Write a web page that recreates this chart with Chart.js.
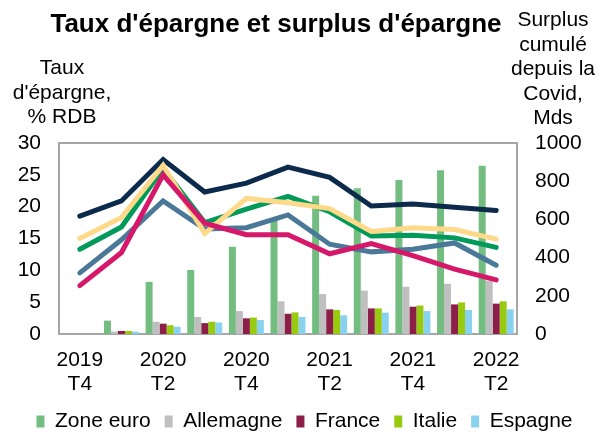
<!DOCTYPE html>
<html>
<head>
<meta charset="utf-8">
<script src="https://cdn.jsdelivr.net/npm/chart.js@4.4.0/dist/chart.umd.min.js"></script>
<style>
    html, body { margin: 0; padding: 0; background: #fff; }
    #wrap { width: 609px; height: 432px; }
</style>
</head>
<body>
<div id="wrap"><canvas id="savingsChart" width="609" height="432"></canvas></div>
<script>
// Quarters on the x axis (only every other one gets a label)
const quarters = ['2019 T4', '2020 T1', '2020 T2', '2020 T3', '2020 T4', '2021 T1',
                  '2021 T2', '2021 T3', '2021 T4', '2022 T1', '2022 T2'];

// Cumulated excess savings since Covid, bn (right axis) - bars
const surplusZoneEuro = [0, 70, 273, 335, 457, 597, 724, 763, 806, 857, 881];
const surplusAllemagne = [0, 13, 64, 89, 120, 171, 209, 227, 247, 263, 279];
const surplusFrance = [0, 16, 54, 57, 82, 106, 129, 134, 143, 155, 159];
const surplusItalie = [0, 16, 46, 64, 86, 113, 126, 134, 149, 165, 171];
const surplusEspagne = [0, 12, 38, 60, 73, 89, 98, 112, 120, 126, 129];

// Saving rate, % of disposable income (left axis) - lines
const tauxNavy = [18.5, 20.9, 27.4, 22.3, 23.7, 26.2, 24.6, 20.1, 20.4, 19.9, 19.4];
const tauxJaune = [15.0, 18.3, 26.5, 15.8, 21.3, 20.6, 19.7, 16.1, 16.7, 16.4, 14.9];
const tauxVert = [13.3, 16.8, 26.0, 17.5, 19.6, 21.6, 19.2, 15.4, 15.5, 15.1, 13.6];
const tauxBleu = [9.6, 14.8, 20.9, 16.5, 16.7, 18.7, 14.1, 12.9, 13.3, 14.3, 10.8];
const tauxRose = [7.6, 12.8, 25.0, 17.4, 15.6, 15.6, 12.6, 14.2, 12.3, 10.2, 8.5];

const FONT = "'Liberation Sans', Arial, sans-serif";
Chart.defaults.font.family = FONT;
Chart.defaults.font.size = 21;
Chart.defaults.color = '#000';

function barSet(label, data, color) {
    return {
        type: 'bar',
        label: label,
        data: data,
        backgroundColor: color,
        borderWidth: 0,
        yAxisID: 'y1',
        order: 10,
        categoryPercentage: 0.84,
        barPercentage: 1.0,
    };
}

function lineSet(label, data, color, order) {
    return {
        type: 'line',
        label: label,
        data: data,
        borderColor: color,
        backgroundColor: color,
        borderWidth: 5,
        pointRadius: 0,
        tension: 0,
        fill: false,
        borderCapStyle: 'round',
        borderJoinStyle: 'miter',
        yAxisID: 'y',
        order: order,
    };
}

// Frame around the plot + the free-standing texts
const textsAndFrame = {
    id: 'textsAndFrame',
    beforeDatasetsDraw(chart) {
        const { ctx, chartArea } = chart;
        ctx.save();
        ctx.strokeStyle = '#A6A6A6';
        ctx.lineWidth = 2;
        ctx.strokeRect(chartArea.left, chartArea.top,
            chartArea.right - chartArea.left, chartArea.bottom - chartArea.top);
        ctx.restore();
    },
    afterDraw(chart) {
        const ctx = chart.ctx;
        ctx.save();
        ctx.fillStyle = '#000';
        ctx.textAlign = 'center';
        ctx.textBaseline = 'alphabetic';

        ctx.font = "bold 26px " + FONT;
        ctx.fillText("Taux d'épargne et surplus d'épargne", 276, 32);

        ctx.font = "21px " + FONT;
        ["Taux", "d'épargne,", "% RDB"].forEach((t, i) => {
            ctx.fillText(t, 62, 74 + i * 24.5);
        });
        ["Surplus", "cumulé", "depuis la", "Covid,", "Mds"].forEach((t, i) => {
            ctx.fillText(t, 553, 26 + i * 24.5);
        });
        ctx.restore();
    }
};

const ctx = document.getElementById('savingsChart').getContext('2d');
const savingsChart = new Chart(ctx, {
    data: {
        labels: quarters,
        datasets: [
            barSet('Zone euro', surplusZoneEuro, '#74BD81'),
            barSet('Allemagne', surplusAllemagne, '#BFBFBF'),
            barSet('France', surplusFrance, '#8C1F47'),
            barSet('Italie', surplusItalie, '#98CA10'),
            barSet('Espagne', surplusEspagne, '#88D2F0'),
            lineSet('Taux 1', tauxNavy, '#0B2A4C', 4),
            lineSet('Taux 2', tauxVert, '#019A5A', 3),
            lineSet('Taux 3', tauxBleu, '#4A7898', 2),
            lineSet('Taux 4', tauxJaune, '#FFD98A', 1),
            lineSet('Taux 5', tauxRose, '#D6186B', 0),
        ],
    },
    options: {
        responsive: false,
        animation: false,
        devicePixelRatio: 1,
        layout: {
            padding: { top: 143, left: 0, right: 0, bottom: -10 },
        },
        scales: {
            x: {
                offset: true,
                grid: { display: false, drawTicks: false },
                border: { display: false },
                ticks: {
                    autoSkip: false,
                    maxRotation: 0,
                    padding: 14,
                    font: { size: 21, lineHeight: 1.15 },
                    callback: function (value, index) {
                        return index % 2 === 0 ? quarters[index].split(' ') : '';
                    },
                },
                afterFit: function (scale) {
                    scale.height = 63;
                },
            },
            y: {
                position: 'left',
                min: 0,
                max: 30,
                grid: { display: false, drawTicks: false },
                border: { display: false },
                ticks: { stepSize: 5, padding: 18 },
                afterFit: function (scale) {
                    scale.width = 59;
                },
            },
            y1: {
                position: 'right',
                min: 0,
                max: 1000,
                grid: { display: false, drawTicks: false },
                border: { display: false },
                ticks: {
                    stepSize: 200,
                    padding: 18,
                    callback: (value) => String(value), // no thousands separator
                },
                afterFit: function (scale) {
                    scale.width = 92;
                },
            },
        },
        plugins: {
            legend: {
                position: 'bottom',
                labels: {
                    boxWidth: 8,
                    boxHeight: 12,
                    padding: 14,
                    font: { size: 21 },
                    filter: (item) => item.datasetIndex < 5,
                },
            },
            tooltip: { enabled: false },
        },
    },
    plugins: [textsAndFrame],
});
</script>
</body>
</html>
